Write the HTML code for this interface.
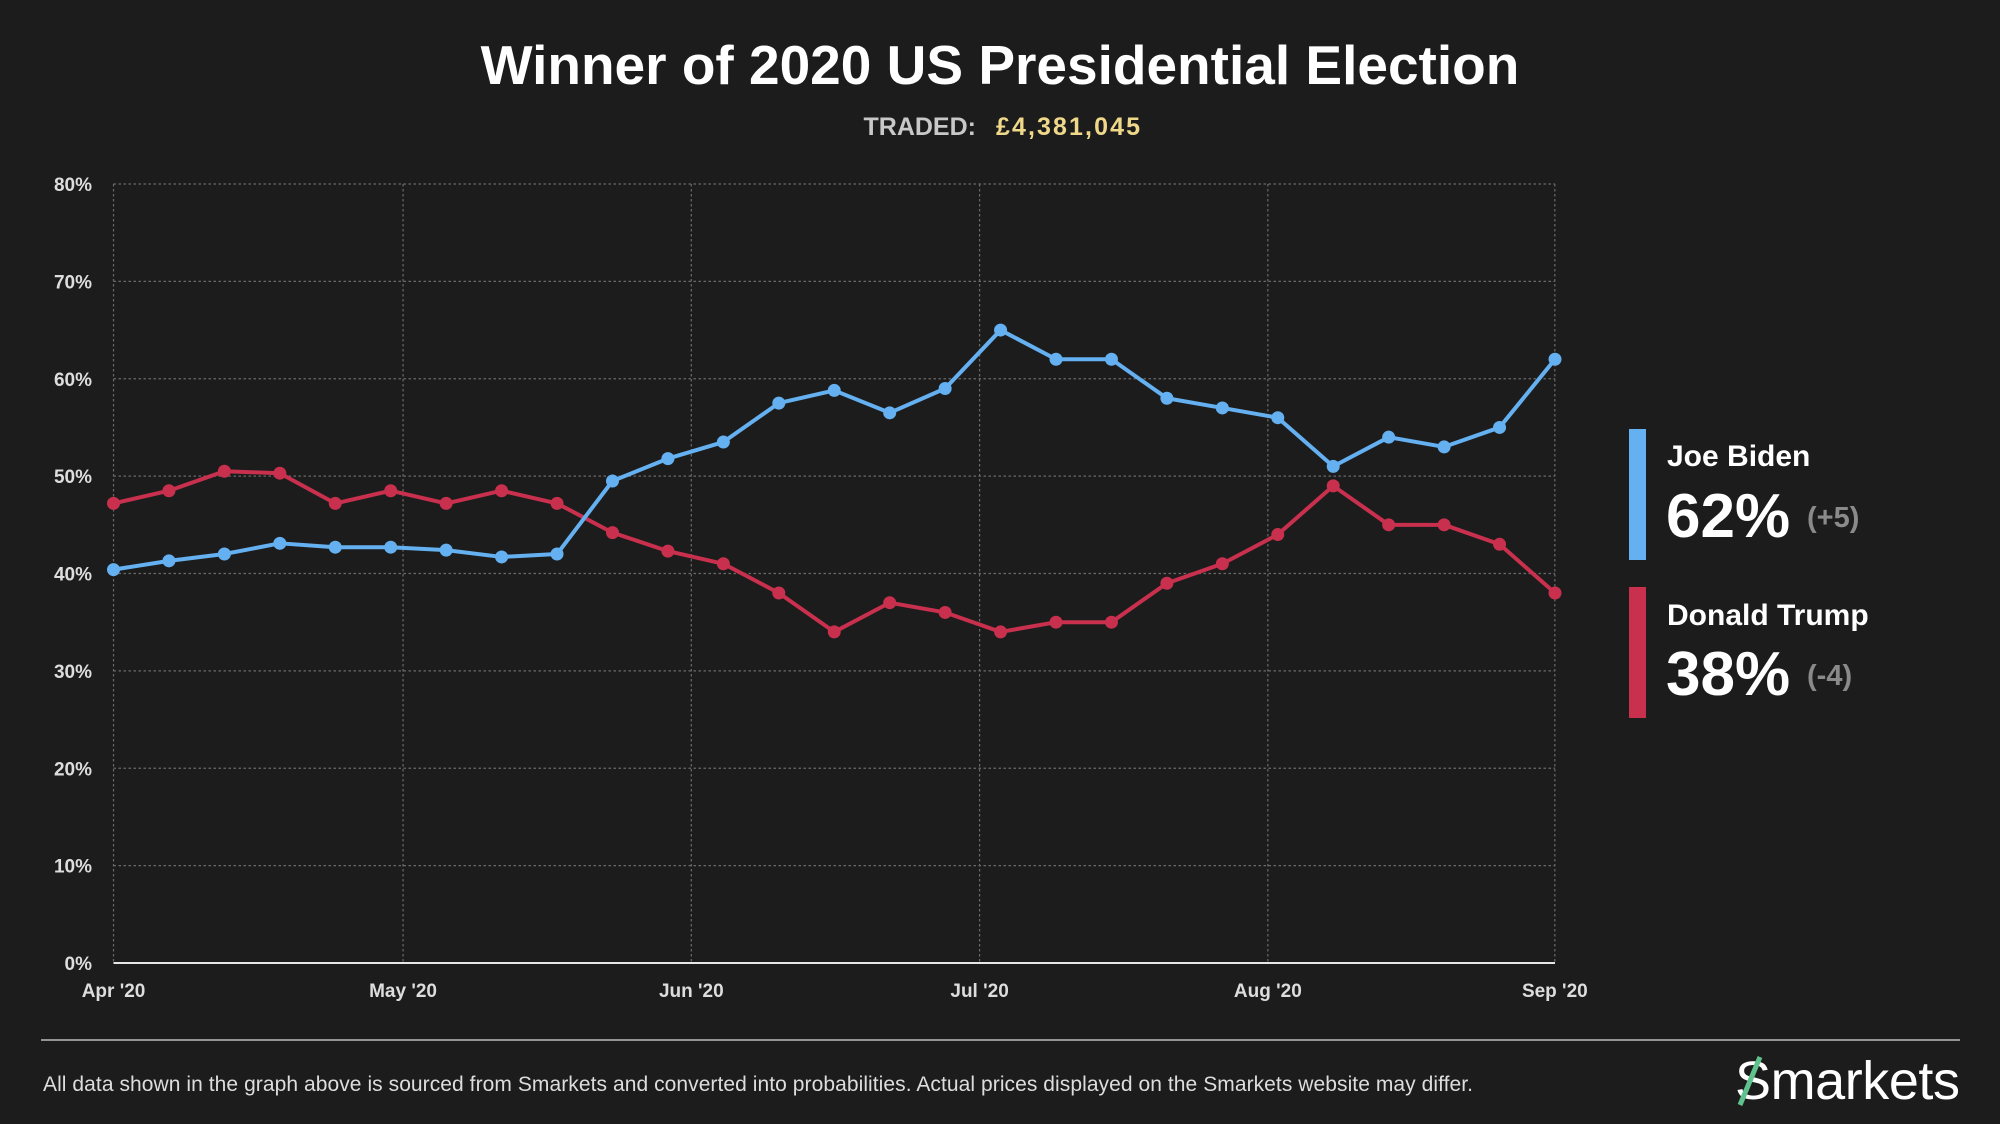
<!DOCTYPE html>
<html><head><meta charset="utf-8">
<style>
html,body{margin:0;padding:0;background:#1c1c1c;width:2000px;height:1124px;overflow:hidden}
svg{display:block}
text{font-family:"Liberation Sans",sans-serif}
</style></head>
<body>
<svg id="s" width="2000" height="1124" viewBox="0 0 2000 1124" xmlns="http://www.w3.org/2000/svg">
<rect width="2000" height="1124" fill="#1c1c1c"/>
<text x="1000" y="84" text-anchor="middle" font-size="55" font-weight="bold" fill="#fff">Winner of 2020 US Presidential Election</text>
<text x="976" y="135" text-anchor="end" font-size="25" font-weight="bold" fill="#c8c8c8">TRADED:</text>
<text x="996" y="135" font-size="25" font-weight="bold" fill="#efd88a" textLength="144">£4,381,045</text>
<g id="grid"></g>
<g id="series"></g>
<rect x="1629" y="429" width="17" height="131" fill="#64b0f0"/>
<text x="1667" y="466" font-size="30" font-weight="bold" fill="#fff">Joe Biden</text>
<text x="1666" y="537" font-size="62" font-weight="bold" fill="#fff">62%</text>
<text x="1807" y="527" font-size="29" font-weight="bold" fill="#8a8a8a">(+5)</text>
<rect x="1629" y="587" width="17" height="131" fill="#c8304e"/>
<text x="1667" y="625" font-size="30" font-weight="bold" fill="#fff">Donald Trump</text>
<text x="1666" y="695" font-size="62" font-weight="bold" fill="#fff">38%</text>
<text x="1807" y="685" font-size="29" font-weight="bold" fill="#8a8a8a">(-4)</text>
<line x1="41" y1="1040" x2="1960" y2="1040" stroke="#bbb" stroke-width="1.5"/>
<text x="43" y="1091" font-size="21" fill="#ddd" textLength="1430">All data shown in the graph above is sourced from Smarkets and converted into probabilities. Actual prices displayed on the Smarkets website may differ.</text>
<text x="1735" y="1099" font-size="54" fill="#fff" textLength="225">Smarkets</text>
<line x1="1740" y1="1105" x2="1760" y2="1057" stroke="#5fc28d" stroke-width="5"/>
</svg>
<script>
var NS="http://www.w3.org/2000/svg";
function el(p,t,a,txt){var e=document.createElementNS(NS,t);for(var k in a)e.setAttribute(k,a[k]);if(txt!=null)e.textContent=txt;p.appendChild(e);return e;}
var L=113.5,R=1555,B=963,U=9.7375;
var g=document.getElementById("grid");
for(var i=0;i<=8;i++){var y=B-i*10*U;
 if(i>0)el(g,"line",{x1:L,x2:R,y1:y,y2:y,stroke:"#6a6a6a","stroke-width":1.2,"stroke-dasharray":"2.5,2.5"});
 el(g,"text",{x:92,y:y+7,"text-anchor":"end","font-size":19,"font-weight":"bold",fill:"#ddd"},(i*10)+"%");}
var months=["Apr '20","May '20","Jun '20","Jul '20","Aug '20","Sep '20"];
var mx=[89,316,542,768,994,1219];
for(var j=0;j<6;j++){var x=mx[j]*1.2755;
 el(g,"line",{x1:x,x2:x,y1:184,y2:B,stroke:"#6a6a6a","stroke-width":1.2,"stroke-dasharray":"2.5,2.5"});
 el(g,"text",{x:x,y:997,"text-anchor":"middle","font-size":19,"font-weight":"bold",fill:"#ddd"},months[j]);}
el(g,"line",{x1:L,x2:R,y1:B,y2:B,stroke:"#e6e6e6","stroke-width":2});
var b=[40.4,41.3,42,43.1,42.7,42.7,42.4,41.7,42,49.5,51.8,53.5,57.5,58.8,56.5,59,65,62,62,58,57,56,51,54,53,55,62];
var t=[47.2,48.5,50.5,50.3,47.2,48.5,47.2,48.5,47.2,44.2,42.3,41,38,34,37,36,34,35,35,39,41,44,49,45,45,43,38];
var s=document.getElementById("series");
function draw(d,c){var pts=[];for(var i=0;i<d.length;i++){pts.push([L+i*(R-L)/26,B-d[i]*U]);}
 el(s,"polyline",{points:pts.map(function(p){return p.join(",")}).join(" "),fill:"none",stroke:c,"stroke-width":4,"stroke-linejoin":"round"});
 pts.forEach(function(p){el(s,"circle",{cx:p[0],cy:p[1],r:6.5,fill:c});});}
draw(t,"#c8304e");draw(b,"#64b0f0");
</script>
</body></html>
